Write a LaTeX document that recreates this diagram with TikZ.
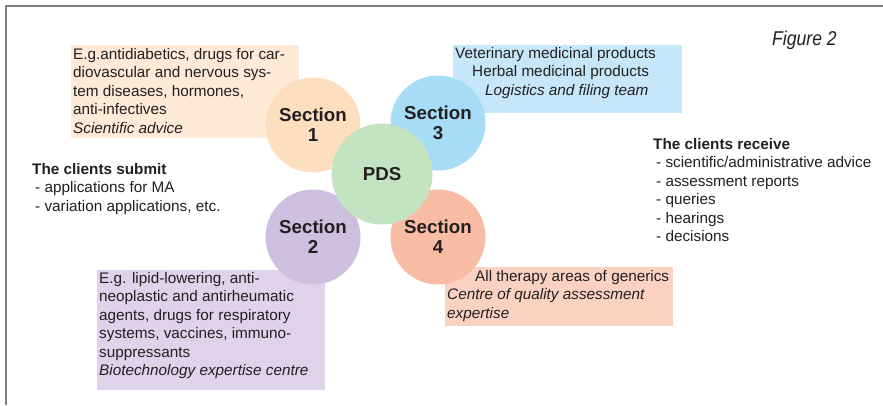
\documentclass[tikz,border=0pt]{standalone}
\usepackage{fontspec}
\setmainfont{Liberation Sans}
\newfontfamily\figfont[FakeStretch=0.88]{Liberation Sans}
\usepackage{xcolor}
\usepackage{tikz}

\definecolor{secone}{HTML}{FDDFBF}
\definecolor{boxone}{HTML}{FEEAD6}
\definecolor{secthree}{HTML}{A6DCF6}
\definecolor{boxthree}{HTML}{C6E7F9}
\definecolor{sectwo}{HTML}{CDBFDE}
\definecolor{boxtwo}{HTML}{DED3EA}
\definecolor{secfour}{HTML}{F8BBA3}
\definecolor{boxfour}{HTML}{FBD2C2}
\definecolor{pdsgreen}{HTML}{C4E3C1}
\definecolor{inkgray}{HTML}{231F20}

\begin{document}
\begin{tikzpicture}[x=1pt,y=-1pt]

			\tikzstyle{section} = [circle,minimum size=95pt,inner sep=0pt,align=center,text=inkgray,font=\fontsize{18.7}{20}\selectfont\bfseries]
			\tikzstyle{body} = [anchor=north west,inner sep=0pt,align=left,text=inkgray,font=\fontsize{15.3}{18.5}\selectfont]

			\useasboundingbox (0,0) rectangle (883,405);
			\draw[gray,line width=1.5pt] (883,6) -- (6,6) -- (6,405);

			\node[anchor=base west,inner sep=0pt,text=inkgray,font=\figfont\fontsize{20}{22}\selectfont\itshape] (fig) at (772,45) {Figure 2};

			% coloured boxes behind the circles
			\fill[boxone] (71,45) rectangle (299,138);
			\fill[boxthree] (453,45) rectangle (682,113);
			\fill[boxtwo] (97,270) rectangle (325,390);
			\fill[boxfour] (445,267) rectangle (673,326);

			\node[body] (txt1) at (73,48) {E.g.antidiabetics, drugs for car-\\diovascular and nervous sys-\\tem diseases, hormones,\\anti-infectives\\\textit{Scientific advice}};
			\node[body] (txt3) at (455,47) {Veterinary medicinal products\\\hspace*{17pt}Herbal medicinal products\\\hspace*{30pt}\textit{Logistics and filing team}};
			\node[body] (txt2) at (99,272) {E.g. lipid-lowering, anti-\\neoplastic and antirheumatic\\agents, drugs for respiratory\\systems, vaccines, immuno-\\suppressants\\\textit{Biotechnology expertise centre}};
			\node[body] (txt4) at (447,270) {\hspace*{28pt}All therapy areas of generics\\\textit{Centre of quality assessment}\\\textit{expertise}};

			\node[section,fill=secone] (sec1) at (313,125) {Section\\1};
			\node[section,fill=secthree] (sec3) at (438,123) {Section\\3};
			\node[section,fill=sectwo] (sec2) at (313,237) {Section\\2};
			\node[section,fill=secfour] (sec4) at (438,237) {Section\\4};
			\node[section,fill=pdsgreen,minimum size=101pt] (pds) at (382,174) {PDS};

			\node[body] (submit) at (32,163) {\textbf{The clients submit}\\\hspace*{3pt}- applications for MA\\\hspace*{3pt}- variation applications, etc.};
			\node[body] (receive) at (653,138) {\textbf{The clients receive}\\\hspace*{3pt}- scientific/administrative advice\\\hspace*{3pt}- assessment reports\\\hspace*{3pt}- queries\\\hspace*{3pt}- hearings\\\hspace*{3pt}- decisions};
		\end{tikzpicture}
\end{document}
